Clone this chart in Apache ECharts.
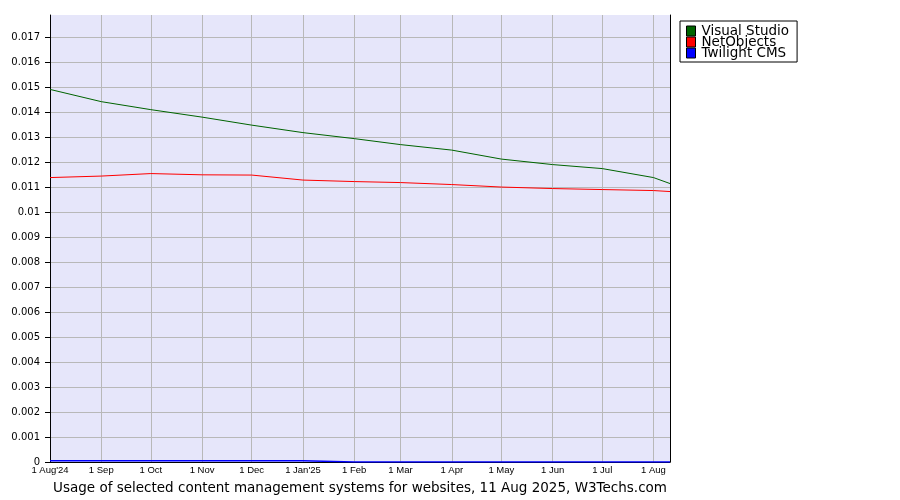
<!DOCTYPE html>
<html>
<head>
<meta charset="utf-8">
<script src="https://cdn.jsdelivr.net/npm/echarts@6/dist/echarts.min.js"></script>
<style>html,body{margin:0;padding:0;background:#fff}#c{width:900px;height:500px}</style>
</head>
<body>
<div id="c"></div>
<script>
// Data
const dates = ['2024-08-01','2024-09-01','2024-10-01','2024-11-01','2024-12-01','2025-01-01','2025-02-01','2025-03-01','2025-04-01','2025-05-01','2025-06-01','2025-07-01','2025-08-01','2025-08-11'];
const visualStudio = [0.01492,0.01443,0.01411,0.01381,0.01349,0.01319,0.01295,0.01271,0.01249,0.01213,0.01191,0.01175,0.01139,0.01115];
const netObjects   = [0.01139,0.01145,0.01155,0.01150,0.01149,0.01129,0.01123,0.01119,0.01111,0.01101,0.01095,0.01091,0.01087,0.01083];
const twilightCMS  = [0.00005,0.00005,0.00005,0.00005,0.00005,0.00005,0,0,0,0,0,0,0,0];
const seriesNames = ['Visual Studio','NetObjects','Twilight CMS'];
const monthNames = ['Jan','Feb','Mar','Apr','May','Jun','Jul','Aug','Sep','Oct','Nov','Dec'];
const startDate = '2024-08-01', endDate = '2025-08-11';

// daily category axis
const days = [];
{
  let d = new Date(startDate + 'T00:00:00Z');
  const e = new Date(endDate + 'T00:00:00Z');
  while (d <= e) { days.push(d.toISOString().slice(0,10)); d = new Date(d.getTime() + 86400000); }
}
const isMonthStart = (idx) => days[idx].slice(8,10) === '01';
function fmtLabel(v, idx) {
  const m = +v.slice(5,7), y = v.slice(2,4);
  let s = '1 ' + monthNames[m-1];
  if (idx === 0 || m === 1) s += "'" + y;
  return s;
}
const pairs = (vals) => dates.map((d,i) => [d, vals[i]]);

const gridLineColors = [];
for (let i = 0; i < 18; i++) gridLineColors.push('#b8b8b8');
gridLineColors.push('rgba(0,0,0,0)');

const chart = echarts.init(document.getElementById('c'), null, {renderer:'canvas'});
chart.setOption({
  animation: false,
  backgroundColor: '#ffffff',
  grid: { left: 50, right: 230, top: 15, bottom: 38, show: true, backgroundColor: '#e6e6fa', borderWidth: 0 },
  legend: {
    orient: 'vertical', left: 680, top: 21,
    padding: [3, 8, 2, 6], itemGap: -3, itemWidth: 9, itemHeight: 10,
    backgroundColor: '#ffffff', borderColor: '#000', borderWidth: 1, borderRadius: 0,
    icon: 'rect',
    itemStyle: { borderColor: '#000', borderWidth: 1 },
    textStyle: { fontFamily: 'DejaVu Sans', fontSize: 13.5, color: '#000', lineHeight: 11, padding: [0,0,0,1] },
    data: seriesNames
  },
  xAxis: {
    type: 'category', data: days, boundaryGap: false,
    axisLine: { show: true, lineStyle: { color: '#000', width: 1 } },
    axisTick: { show: false },
    axisLabel: { interval: (idx) => isMonthStart(idx), formatter: fmtLabel, fontFamily: 'Liberation Sans', fontSize: 9.5, color: '#000', margin: 3, hideOverlap: false },
    splitLine: { show: true, interval: (idx) => isMonthStart(idx), lineStyle: { color: '#b8b8b8', width: 1 } }
  },
  yAxis: [{
    type: 'value', min: 0, max: 0.0179, interval: 0.001,
    axisLine: { show: true, lineStyle: { color: '#000', width: 1 } },
    axisTick: { show: true, length: 5, lineStyle: { color: '#000' } },
    axisLabel: { showMaxLabel: false, fontFamily: 'DejaVu Sans', fontSize: 10, color: '#000', margin: 10,
      formatter: (v) => v === 0 ? '0' : String(+v.toFixed(3)) },
    splitLine: { show: true, lineStyle: { color: gridLineColors, width: 1 } }
  }, {
    type: 'value', position: 'right', min: 0, max: 0.0179,
    axisLine: { show: true, lineStyle: { color: '#000', width: 1 } },
    axisTick: { show: false }, axisLabel: { show: false }, splitLine: { show: false }
  }],
  series: [
    { name: seriesNames[0], type: 'line', data: pairs(visualStudio), showSymbol: false, symbol: 'none', color: '#006400', lineStyle: { width: 1, color: '#006400' } },
    { name: seriesNames[1], type: 'line', data: pairs(netObjects), showSymbol: false, symbol: 'none', color: '#ff0000', lineStyle: { width: 1, color: '#ff0000' } },
    { name: seriesNames[2], type: 'line', data: pairs(twilightCMS), showSymbol: false, symbol: 'none', color: '#0000ff', lineStyle: { width: 1.5, color: '#0000ff' } }
  ],
  graphic: [{
    type: 'text', x: 360, y: 488,
    style: { text: 'Usage of selected content management systems for websites, 11 Aug 2025, W3Techs.com', fontFamily: 'DejaVu Sans', fontSize: 13.5, fill: '#000', align: 'center', verticalAlign: 'middle' }
  }]
});
</script>
</body>
</html>
